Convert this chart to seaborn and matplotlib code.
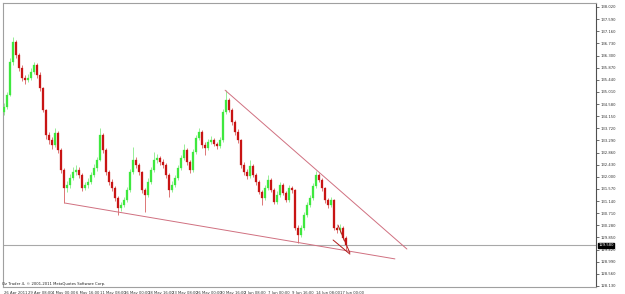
import numpy as np
import pandas as pd
import matplotlib
matplotlib.use("Agg")
import matplotlib.pyplot as plt
import matplotlib.transforms as mtransforms
import seaborn as sns

# ---------------- data (GBPJPY-like) ----------------
x_labels = ["26 Apr 2011", "29 Apr 08:00", "4 May 00:00", "6 May 16:00", "11 May 08:00",
            "16 May 00:00", "18 May 16:00", "23 May 08:00", "26 May 00:00", "30 May 16:00",
            "2 Jun 08:00", "7 Jun 00:00", "9 Jun 16:00", "14 Jun 08:00", "17 Jun 00:00"]
x_label_bars = [0, 8, 16, 24, 32, 40, 48, 56, 64, 72, 80, 88, 96, 104, 112]

y_labels = ["138.020", "137.590", "137.160", "136.730", "136.300", "135.870", "135.440",
            "135.010", "134.580", "134.150", "133.720", "133.290", "132.860", "132.430",
            "132.000", "131.570", "131.140", "130.710", "130.280", "129.850", "129.420",
            "128.990", "128.560", "128.130"]

first_open = 134.30
close = [134.48, 134.90, 136.07, 136.78, 136.32, 135.86, 135.50, 135.43, 135.50, 135.72,
         135.96, 135.61, 135.15, 134.37, 133.48, 133.30, 133.13, 133.55, 132.95, 132.24,
         131.60, 131.71, 131.96, 132.17, 132.24, 132.06, 131.60, 131.71, 131.82, 132.06,
         132.31, 132.60, 133.48, 132.95, 132.17, 131.82, 131.60, 131.25, 130.89, 131.00,
         131.18, 131.53, 132.17, 132.60, 132.42, 132.17, 131.53, 131.36, 131.82, 132.24,
         132.60, 132.67, 132.53, 132.42, 132.06, 131.53, 131.71, 131.96, 132.31, 132.67,
         132.95, 132.53, 132.24, 132.88, 133.38, 133.59, 133.13, 133.02, 133.23, 133.30,
         133.16, 133.09, 133.30, 134.30, 134.72, 134.37, 133.94, 133.59, 133.30, 132.42,
         132.17, 132.03, 132.38, 132.06, 131.82, 131.46, 131.25, 131.60, 131.89, 131.53,
         131.11, 131.36, 131.71, 131.43, 131.18, 131.60, 131.53, 130.19, 129.94, 130.19,
         130.65, 131.00, 131.25, 131.67, 132.06, 131.89, 131.60, 131.18, 131.00, 131.18,
         130.19, 130.11, 130.19, 129.83, 129.58]
high = [134.62, 135.02, 136.20, 136.96, 136.85, 136.40, 135.95, 135.62, 135.65, 135.85,
        136.07, 136.02, 135.70, 135.20, 134.42, 133.60, 133.42, 133.73, 133.62, 133.02,
        132.30, 131.85, 132.10, 132.35, 132.42, 132.35, 132.12, 131.82, 131.95, 132.18,
        132.45, 132.72, 133.73, 133.55, 133.02, 132.25, 131.92, 131.68, 131.32, 131.12,
        131.30, 131.65, 132.28, 133.06, 132.70, 132.50, 132.22, 131.62, 131.95, 132.35,
        132.88, 132.80, 132.75, 132.62, 132.50, 132.12, 131.85, 132.08, 132.42, 132.78,
        133.16, 133.02, 132.60, 132.98, 133.48, 133.73, 133.65, 133.22, 133.35, 133.45,
        133.38, 133.25, 133.42, 134.40, 135.07, 134.80, 134.45, 134.02, 133.68, 133.35,
        132.52, 132.28, 132.60, 132.45, 132.12, 131.90, 131.55, 131.70, 132.06, 131.95,
        131.60, 131.48, 131.82, 131.78, 131.50, 131.72, 131.68, 131.58, 130.28, 130.30,
        130.75, 131.10, 131.35, 131.78, 132.21, 132.12, 131.95, 131.65, 131.25, 131.30,
        131.22, 130.25, 130.33, 130.25, 129.90]
low = [134.18, 134.40, 134.85, 135.95, 136.20, 135.75, 135.38, 135.30, 135.35, 135.42,
       135.66, 135.52, 135.05, 134.28, 133.35, 133.15, 133.00, 133.05, 132.85, 132.15,
       131.07, 131.45, 131.62, 131.88, 132.05, 131.95, 131.48, 131.52, 131.62, 131.75,
       131.98, 132.22, 132.55, 132.85, 132.08, 131.72, 131.50, 131.15, 130.65, 130.80,
       130.92, 131.10, 131.45, 132.10, 132.32, 132.08, 131.42, 130.75, 131.28, 131.75,
       132.18, 132.50, 132.42, 132.32, 131.95, 131.28, 131.45, 131.65, 131.90, 132.25,
       132.60, 132.42, 132.12, 132.18, 132.80, 133.30, 133.02, 132.77, 132.95, 133.15,
       133.08, 133.00, 133.02, 133.25, 134.22, 134.28, 133.85, 133.48, 133.20, 132.32,
       132.05, 131.92, 131.95, 131.98, 131.72, 131.38, 131.00, 131.18, 131.52, 131.45,
       131.02, 131.05, 131.30, 131.35, 131.10, 131.12, 131.42, 130.10, 129.65, 129.85,
       130.12, 130.58, 130.92, 131.18, 131.60, 131.80, 131.50, 131.08, 130.90, 130.92,
       130.10, 130.00, 130.02, 129.75, 129.41]

current_price = 129.58
upper_trend_x = [73.7, 134.3]
upper_trend_y = [135.07, 129.44]
lower_trend_x = [20.3, 130.3]
lower_trend_y = [131.07, 129.09]
wedge_a_x = [109.7, 115.3]
wedge_a_y = [129.76, 129.26]
wedge_b_x = [111.3, 115.3]
wedge_b_y = [130.29, 129.30]

# ---------------- figure ----------------
sns.set_style("white")
plt.rcParams['font.family'] = ['DejaVu Sans']

W, H = 625, 294
fig = plt.figure(figsize=(W / 100, H / 100), dpi=100)
fig.patch.set_facecolor("white")
ax = fig.add_axes([3 / W, 7 / H, 593 / W, 284 / H])
ax.set_facecolor("white")

df = pd.DataFrame({"close": close, "high": high, "low": low})
df["open"] = [first_open] + close[:-1]
df["idx"] = np.arange(len(df))
bull = df["close"] >= df["open"]
bull_col, bear_col = "#3ee83e", "#c81414"
wick_cols = np.where(bull, "#6ee86e", "#d04040")
colors = np.where(bull, bull_col, bear_col)

ax.vlines(df["idx"], df["low"], df["high"], colors=wick_cols, lw=0.5, zorder=2)
body_bottom = np.minimum(df["open"], df["close"])
body_h = np.maximum(np.abs(df["close"] - df["open"]), 0.02)
ax.bar(df["idx"], body_h, bottom=body_bottom, width=0.5, color=colors,
       edgecolor=colors, lw=0.2, zorder=3)

trend_col = "#d07080"
for tx, ty in [(upper_trend_x, upper_trend_y), (lower_trend_x, lower_trend_y)]:
    sns.lineplot(x=tx, y=ty, ax=ax, color=trend_col, lw=0.7, zorder=4)
for tx, ty in [(wedge_a_x, wedge_a_y), (wedge_b_x, wedge_b_y)]:
    sns.lineplot(x=tx, y=ty, ax=ax, color="#b01818", lw=0.7, zorder=4)

ax.axhline(current_price, color="#a8a8a8", lw=0.8, zorder=1)

ax.set_xlim((3 - 4) / 3, (596 - 4) / 3)
ax.set_ylim(138.268 - 0.03545 * 287, 138.268 - 0.03545 * 3)

# axes / spines
for s in ["left", "top", "bottom"]:
    ax.spines[s].set_color("#a0a0a0")
    ax.spines[s].set_linewidth(0.8)
ax.spines["right"].set_color("#505050")
ax.spines["right"].set_linewidth(0.8)

fs = 2.7
ax.yaxis.tick_right()
ax.set_yticks([float(v) for v in y_labels])
ax.set_yticklabels(y_labels, fontsize=fs, color="#222222")
ax.tick_params(axis="y", direction="out", length=2, width=0.5, pad=1.5, colors="#333333")

ax.set_xticks(x_label_bars)
ax.set_xticklabels(x_labels, fontsize=fs, ha="left", color="#222222")
ax.tick_params(axis="x", direction="out", length=2, width=0.5, pad=1, colors="#333333")
ax.set_xlabel("")
ax.set_ylabel("")

# current price tag
trans = mtransforms.blended_transform_factory(ax.transAxes, ax.transData)
ax.text(1.004, current_price, "129.580", transform=trans, fontsize=fs, color="white",
        ha="left", va="center",
        bbox=dict(boxstyle="square,pad=0.15", fc="black", ec="black"), zorder=6, clip_on=False)

fig.text(2 / W, 1 - 284.5 / H, "Oz Trader 4, \u00a9 2001-2011 MetaQuotes Software Corp.",
         fontsize=fs, color="#222222", ha="left", va="center")

fig.savefig("out.png", dpi=100)
